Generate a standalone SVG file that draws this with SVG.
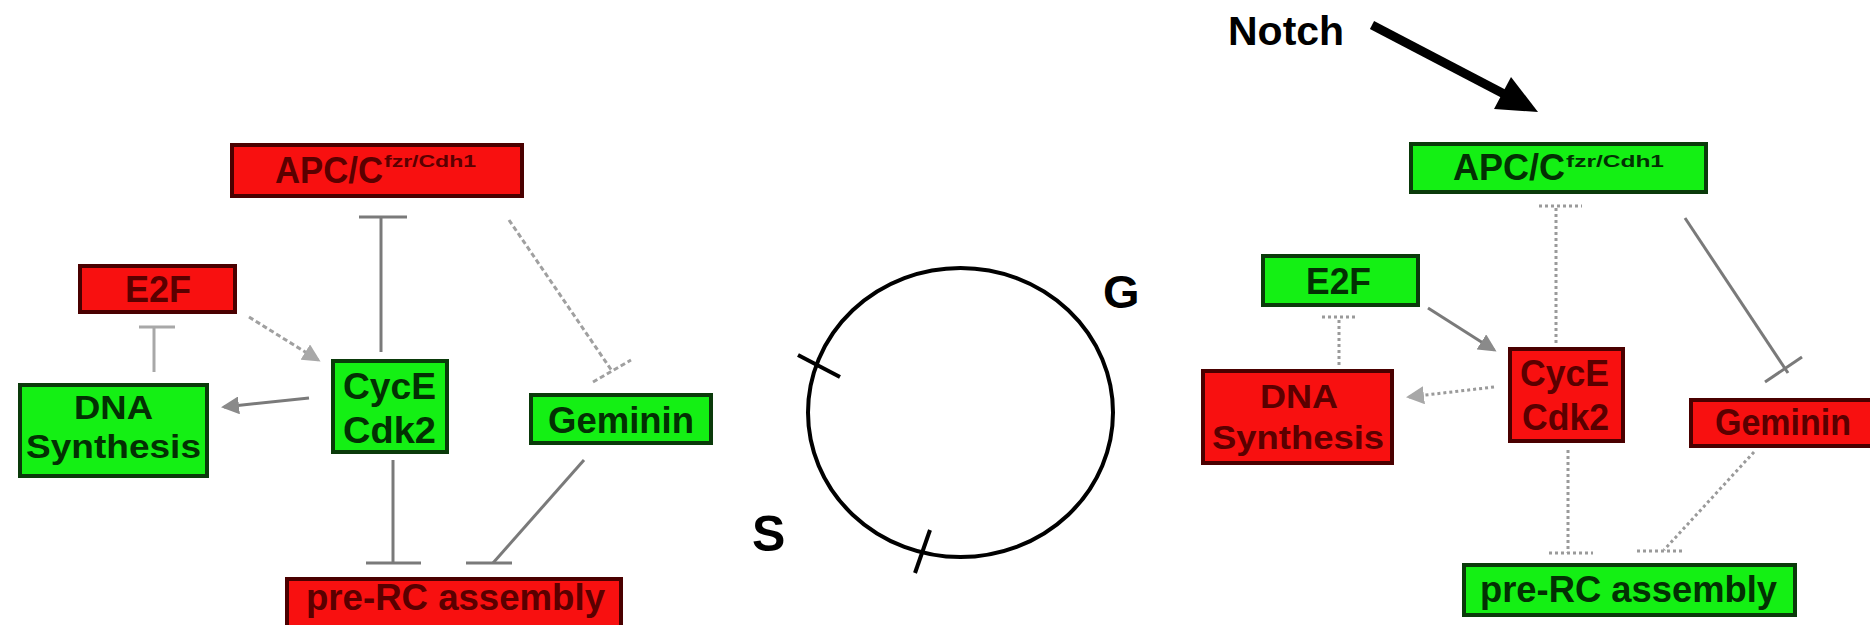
<svg xmlns="http://www.w3.org/2000/svg" width="1870" height="625" viewBox="0 0 1870 625">
<style>
.red{fill:#f81010;stroke:#4a0000;stroke-width:4}
.grn{fill:#14f014;stroke:#0a3a0a;stroke-width:4}
.lbl{font-family:"Liberation Sans",Arial,sans-serif;font-weight:bold;font-size:37px}
.two{font-size:33px}
.sup{font-family:"Liberation Sans",Arial,sans-serif;font-weight:bold;font-size:17px}
.tr{fill:#5a0000}
.tg{fill:#033003}
.solid{stroke:#7a7a7a;stroke-width:3;fill:none}
.light{stroke:#a8a8a8;stroke-width:3;fill:none}
.dash{stroke:#a0a0a0;stroke-width:3;fill:none;stroke-dasharray:5 3}
.dot{stroke:#9a9a9a;stroke-width:3;fill:none;stroke-dasharray:3 3}
.big{font-family:"Liberation Sans",Arial,sans-serif;font-weight:bold;fill:#000}
</style>
<defs>
<marker id="arrG" markerWidth="6" markerHeight="6" refX="5" refY="3" orient="auto" markerUnits="strokeWidth">
<path d="M0,0 L6,3 L0,6 Z" fill="#8a8a8a"/>
</marker>
<marker id="arrL" markerWidth="6" markerHeight="6" refX="5" refY="3" orient="auto" markerUnits="strokeWidth">
<path d="M0,0 L6,3 L0,6 Z" fill="#a8a8a8"/>
</marker>
</defs>

<g id="connectors">
<!-- left panel -->
<line class="solid" x1="381" y1="352" x2="381" y2="217"/>
<line class="solid" x1="359" y1="217" x2="407" y2="217"/>
<line class="dash" x1="249" y1="317" x2="318" y2="360" marker-end="url(#arrL)"/>
<line class="light" x1="154" y1="372" x2="154" y2="327"/>
<line class="light" x1="139" y1="327" x2="175" y2="327"/>
<line class="solid" x1="309" y1="398" x2="224" y2="407" marker-end="url(#arrG)"/>
<line class="dash" x1="509" y1="220" x2="612" y2="371"/>
<line class="dash" x1="593" y1="382" x2="631" y2="360"/>
<line class="solid" x1="393" y1="460" x2="393" y2="563"/>
<line class="solid" x1="366" y1="563" x2="421" y2="563"/>
<line class="solid" x1="584" y1="460" x2="493" y2="563"/>
<line class="solid" x1="466" y1="563" x2="512" y2="563"/>
<!-- right panel -->
<line class="dot" x1="1556" y1="343" x2="1556" y2="206"/>
<line class="dot" x1="1539" y1="206" x2="1582" y2="206"/>
<line class="solid" x1="1428" y1="308" x2="1494" y2="350" marker-end="url(#arrG)"/>
<line class="dot" x1="1339" y1="365" x2="1339" y2="317"/>
<line class="dot" x1="1322" y1="317" x2="1357" y2="317"/>
<line class="dot" x1="1494" y1="387" x2="1409" y2="397" marker-end="url(#arrL)"/>
<line class="solid" x1="1685" y1="218" x2="1788" y2="373"/>
<line class="solid" x1="1765" y1="382" x2="1802" y2="357"/>
<line class="dot" x1="1568" y1="450" x2="1568" y2="553"/>
<line class="dot" x1="1549" y1="553" x2="1593" y2="553"/>
<line class="dot" x1="1754" y1="452" x2="1664" y2="550"/>
<line class="dot" x1="1637" y1="551" x2="1683" y2="551"/>
</g>

<!-- left panel nodes -->
<g id="L_APC">
<rect class="red" x="232" y="145" width="290" height="51"/>
<text class="lbl tr" x="275" y="183" textLength="108" lengthAdjust="spacingAndGlyphs">APC/C</text>
<text class="sup tr" x="384" y="167" textLength="92" lengthAdjust="spacingAndGlyphs">fzr/Cdh1</text>
</g>
<g id="L_E2F">
<rect class="red" x="80" y="266" width="155" height="46"/>
<text class="lbl tr" x="125" y="302" textLength="66" lengthAdjust="spacingAndGlyphs">E2F</text>
</g>
<g id="L_DNA">
<rect class="grn" x="20" y="385" width="187" height="91"/>
<text class="lbl two tg" x="74" y="419" textLength="79" lengthAdjust="spacingAndGlyphs">DNA</text>
<text class="lbl two tg" x="26" y="458" textLength="175" lengthAdjust="spacingAndGlyphs">Synthesis</text>
</g>
<g id="L_CycE">
<rect class="grn" x="333" y="361" width="114" height="91"/>
<text class="lbl tg" x="343" y="399" textLength="93" lengthAdjust="spacingAndGlyphs">CycE</text>
<text class="lbl tg" x="343" y="443" textLength="93" lengthAdjust="spacingAndGlyphs">Cdk2</text>
</g>
<g id="L_Geminin">
<rect class="grn" x="531" y="395" width="180" height="48"/>
<text class="lbl tg" x="548" y="433" textLength="146" lengthAdjust="spacingAndGlyphs">Geminin</text>
</g>
<g id="L_preRC">
<rect class="red" x="287" y="579" width="334" height="52"/>
<text class="lbl tr" x="306" y="610" textLength="299" lengthAdjust="spacingAndGlyphs">pre-RC assembly</text>
</g>

<!-- cell cycle -->
<g id="cycle">
<ellipse cx="960.5" cy="412.5" rx="152.5" ry="144.5" fill="none" stroke="#000" stroke-width="4"/>
<line x1="798" y1="355" x2="840" y2="377" stroke="#000" stroke-width="4"/>
<line x1="930" y1="530" x2="915" y2="573" stroke="#000" stroke-width="4"/>
<text class="big" x="1103" y="308" font-size="47">G</text>
<text class="big" x="752" y="551" font-size="50">S</text>
</g>

<!-- Notch -->
<g id="Notch">
<text class="big" x="1228" y="45" font-size="41">Notch</text>
<line x1="1372" y1="25" x2="1506" y2="95" stroke="#000" stroke-width="9"/>
<polygon points="1538,112 1494,109 1511,77" fill="#000"/>
</g>

<!-- right panel nodes -->
<g id="R_APC">
<rect class="grn" x="1411" y="144" width="295" height="48"/>
<text class="lbl tg" x="1453" y="180" textLength="112" lengthAdjust="spacingAndGlyphs">APC/C</text>
<text class="sup tg" x="1566" y="167" textLength="98" lengthAdjust="spacingAndGlyphs">fzr/Cdh1</text>
</g>
<g id="R_E2F">
<rect class="grn" x="1263" y="256" width="155" height="49"/>
<text class="lbl tg" x="1306" y="294" textLength="65" lengthAdjust="spacingAndGlyphs">E2F</text>
</g>
<g id="R_DNA">
<rect class="red" x="1203" y="371" width="189" height="92"/>
<text class="lbl two tr" x="1260" y="408" textLength="78" lengthAdjust="spacingAndGlyphs">DNA</text>
<text class="lbl two tr" x="1212" y="449" textLength="172" lengthAdjust="spacingAndGlyphs">Synthesis</text>
</g>
<g id="R_CycE">
<rect class="red" x="1510" y="349" width="113" height="92"/>
<text class="lbl tr" x="1520" y="386" textLength="89" lengthAdjust="spacingAndGlyphs">CycE</text>
<text class="lbl tr" x="1522" y="430" textLength="87" lengthAdjust="spacingAndGlyphs">Cdk2</text>
</g>
<g id="R_Geminin">
<rect class="red" x="1691" y="400" width="182" height="46"/>
<text class="lbl tr" x="1715" y="435" textLength="136" lengthAdjust="spacingAndGlyphs">Geminin</text>
</g>
<g id="R_preRC">
<rect class="grn" x="1464" y="565" width="331" height="50"/>
<text class="lbl tg" x="1480" y="602" textLength="297" lengthAdjust="spacingAndGlyphs">pre-RC assembly</text>
</g>
</svg>
